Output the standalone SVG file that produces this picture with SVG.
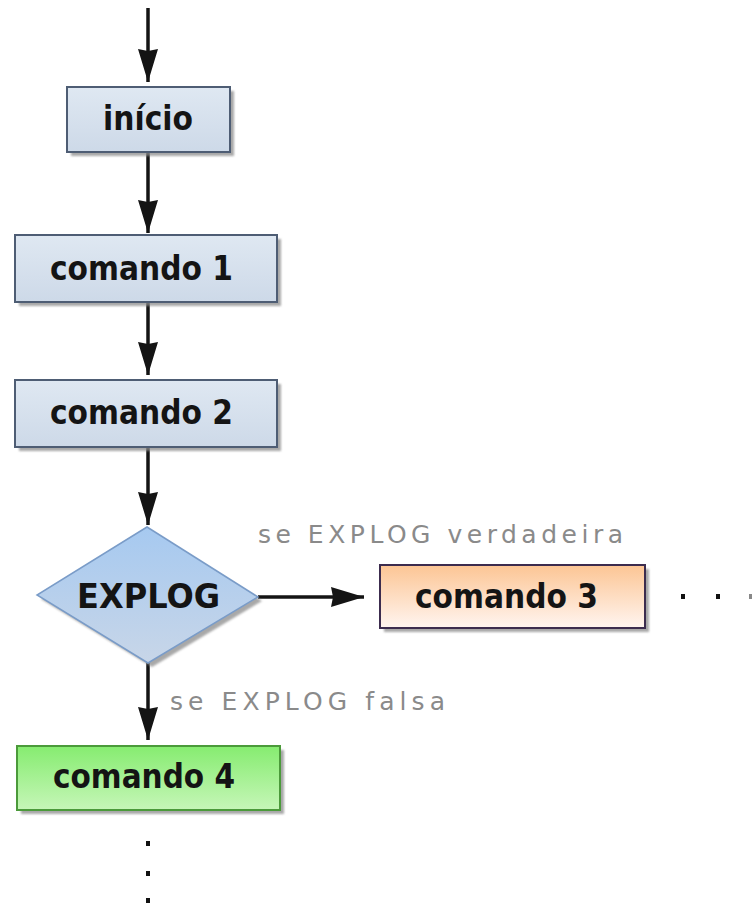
<svg xmlns="http://www.w3.org/2000/svg" width="752" height="909" viewBox="0 0 752 909">
  <style>
    .lbl { font-family: "DejaVu Sans", "Liberation Sans", sans-serif; font-weight: bold; font-size: 34px; fill: #141414; }
    .cond { font-family: "DejaVu Sans", "Liberation Sans", sans-serif; font-size: 25px; fill: #8a8a8a; }
    .edge { stroke: #141414; stroke-width: 3.5; fill: none; }
    .shadow { fill: #8c8c8c; opacity: 0.75; filter: url(#soft); }
    .blue { fill: url(#gBlue); stroke: #4e5d74; stroke-width: 2; }
    .orange { fill: url(#gOrange); stroke: #3c2c4e; stroke-width: 2; }
    .green { fill: url(#gGreen); stroke: #4b9a3a; stroke-width: 2; }
    .diamond { fill: url(#gDiamond); stroke: #7a9cc8; stroke-width: 1.5; }
    .dot { fill: #111; }
  </style>
  <defs>
    <linearGradient id="gBlue" x1="0" y1="0" x2="0" y2="1">
      <stop offset="0" stop-color="#dfe8f2"/>
      <stop offset="1" stop-color="#cdd9e8"/>
    </linearGradient>
    <linearGradient id="gOrange" x1="0" y1="0" x2="0" y2="1">
      <stop offset="0" stop-color="#fcc594"/>
      <stop offset="1" stop-color="#fff5f0"/>
    </linearGradient>
    <linearGradient id="gGreen" x1="0" y1="0" x2="0" y2="1">
      <stop offset="0" stop-color="#86ec70"/>
      <stop offset="1" stop-color="#c6f6b8"/>
    </linearGradient>
    <linearGradient id="gDiamond" x1="0" y1="0" x2="0" y2="1">
      <stop offset="0" stop-color="#a6c9f0"/>
      <stop offset="1" stop-color="#c8d6e8"/>
    </linearGradient>
    <filter id="soft" x="-10%" y="-10%" width="120%" height="120%">
      <feGaussianBlur stdDeviation="1"/>
    </filter>
    <marker id="head" markerUnits="userSpaceOnUse" markerWidth="34" markerHeight="22" refX="33" refY="11" orient="auto">
      <path d="M0,1 L33,11 L0,21 L2,11 z" fill="#141414"/>
    </marker>
  </defs>

  <rect width="752" height="909" fill="#ffffff"/>

  <!-- connectors -->
  <g id="connectors">
    <line class="edge" x1="148" y1="8" x2="148" y2="82" marker-end="url(#head)"/>
    <line class="edge" x1="148" y1="152" x2="148" y2="233" marker-end="url(#head)"/>
    <line class="edge" x1="148" y1="302" x2="148" y2="375" marker-end="url(#head)"/>
    <line class="edge" x1="148" y1="447" x2="148" y2="525" marker-end="url(#head)"/>
    <line class="edge" x1="258" y1="597" x2="364" y2="597" marker-end="url(#head)"/>
    <line class="edge" x1="148" y1="663" x2="148" y2="740" marker-end="url(#head)"/>
    <!-- continuation dots -->
    <rect class="dot" x="681" y="594" width="4" height="5"/>
    <rect class="dot" x="716" y="594" width="4" height="5"/>
    <rect class="dot" x="749" y="594" width="3" height="5" opacity="0.5"/>
    <rect class="dot" x="146" y="841" width="4" height="5"/>
    <rect class="dot" x="146" y="871" width="4" height="5"/>
    <rect class="dot" x="146" y="898" width="4" height="5"/>
  </g>

  <!-- branch conditions -->
  <text class="cond" x="258" y="543" textLength="365" lengthAdjust="spacing">se EXPLOG verdadeira</text>
  <text class="cond" x="170" y="710" textLength="275" lengthAdjust="spacing">se EXPLOG falsa</text>

  <g id="inicio">
    <rect class="shadow" x="71" y="91" width="163" height="65"/>
    <rect class="blue" x="67" y="87" width="163" height="65"/>
    <text class="lbl" x="103" y="130" textLength="90" lengthAdjust="spacingAndGlyphs">início</text>
  </g>

  <g id="comando1">
    <rect class="shadow" x="19" y="239" width="262" height="67"/>
    <rect class="blue" x="15" y="235" width="262" height="67"/>
    <text class="lbl" x="50" y="280" textLength="183" lengthAdjust="spacingAndGlyphs">comando 1</text>
  </g>

  <g id="comando2">
    <rect class="shadow" x="19" y="384" width="262" height="67"/>
    <rect class="blue" x="15" y="380" width="262" height="67"/>
    <text class="lbl" x="50" y="424" textLength="183" lengthAdjust="spacingAndGlyphs">comando 2</text>
  </g>

  <g id="explog">
    <path class="shadow" d="M151,531 L262,601 L152,667 L41,599 z"/>
    <path class="diamond" d="M147,527 L258,597 L148,663 L37,595 z"/>
    <text class="lbl" x="77" y="608" textLength="143" lengthAdjust="spacingAndGlyphs">EXPLOG</text>
  </g>

  <g id="comando3">
    <rect class="shadow" x="384" y="569" width="265" height="63"/>
    <rect class="orange" x="380" y="565" width="265" height="63"/>
    <text class="lbl" x="415" y="608" textLength="183" lengthAdjust="spacingAndGlyphs">comando 3</text>
  </g>

  <g id="comando4">
    <rect class="shadow" x="21" y="750" width="263" height="64"/>
    <rect class="green" x="17" y="746" width="263" height="64"/>
    <text class="lbl" x="53" y="788" textLength="182" lengthAdjust="spacingAndGlyphs">comando 4</text>
  </g>
</svg>
